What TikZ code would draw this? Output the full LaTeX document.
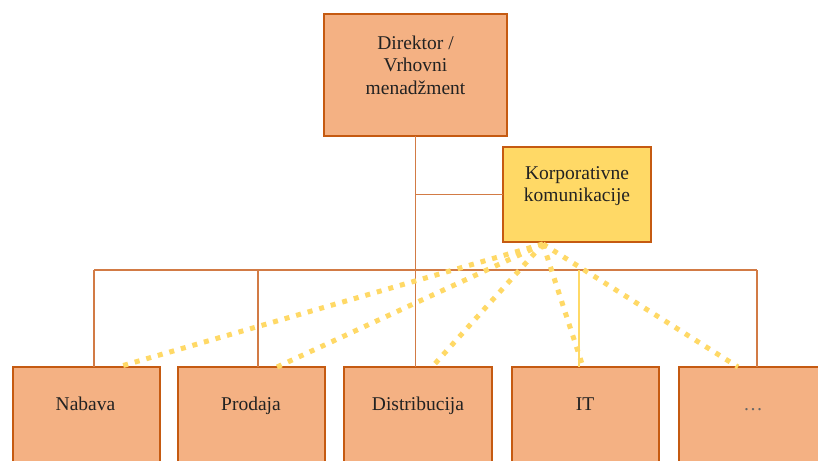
\documentclass[tikz,border=0pt]{standalone}
\usepackage{fontspec}
\setmainfont{Liberation Serif}
\definecolor{boxfill}{HTML}{F4B183}
\definecolor{boxline}{HTML}{C55A11}
\definecolor{kkfill}{HTML}{FFD966}
\definecolor{conn}{HTML}{D27B45}
\definecolor{dotc}{HTML}{FFD966}
\definecolor{txt}{HTML}{222222}
\begin{document}
\begin{tikzpicture}[x=1pt,y=-1pt,
  orgbox/.style={draw=boxline, fill=boxfill, line width=2.8pt, inner sep=0pt, outer sep=0pt},
  kkbox/.style={orgbox, fill=kkfill},
  lbl/.style={font=\fontsize{19.5}{22.5}\selectfont, text=txt, align=center, inner sep=0pt},
  tree/.style={draw=conn, line width=1.6pt},
  ittree/.style={draw=dotc, line width=1.6pt},
  dotline/.style={draw=dotc, line width=5pt, dash pattern=on 5pt off 7pt}]
\useasboundingbox (0,0) rectangle (818,460);
\clip (0,0) rectangle (818,460);
\fill[white] (0,0) rectangle (818,460);

% boxes
\node[orgbox, minimum width=183pt, minimum height=122pt] (dir) at (415.5,75) {};
\node[kkbox, minimum width=148pt, minimum height=95pt] (kk) at (577,194.5) {};
\node[orgbox, minimum width=147pt, minimum height=122pt] (nab) at (86.5,428) {};
\node[orgbox, minimum width=147pt, minimum height=122pt] (pro) at (251.5,428) {};
\node[orgbox, minimum width=148pt, minimum height=122pt] (dis) at (418,428) {};
\node[orgbox, minimum width=147pt, minimum height=122pt] (it) at (585.5,428) {};
\node[orgbox, minimum width=147pt, minimum height=122pt] (etc) at (752.5,428) {};

% labels
\node[lbl] (dirt) at (415.5,65) {Direktor /\\Vrhovni\\menadžment};
\node[lbl] (kkt) at (577,186) {Korporativne\\komunikacije};
\node[lbl, anchor=base] (nabt) at (85.5,410) {Nabava};
\node[lbl, anchor=base] (prot) at (251,410) {Prodaja};
\node[lbl, anchor=base] (dist) at (418,410) {Distribucija};
\node[lbl, anchor=base] (itt) at (585,410) {IT};
\node[lbl, anchor=base, text=black!60] (etct) at (753,410) {…};

% tree connectors
\coordinate (bl) at (94,270);
\coordinate (bp) at (258,270);
\coordinate (bi) at (579,270);
\coordinate (br) at (757,270);
\draw[tree] (dir.south) -- (dir.south |- dis.north);
\draw[tree] (dir.south |- kk.west) -- (kk.west);
\draw[tree] (bl) -- (br);
\draw[tree] (bl) -- (bl |- nab.north);
\draw[tree] (bp) -- (bp |- pro.north);
\draw[ittree] (bi) -- (bi |- it.north);
\draw[tree] (br) -- (br |- etc.north);

% dotted links
\coordinate (ks) at (543,244);
\coordinate (dn) at (118,367);
\coordinate (dp) at (277,367);
\coordinate (dd) at (432,367);
\coordinate (di) at (583,367);
\coordinate (de) at (738,367);
\draw[dotline] (ks) -- (dn);
\draw[dotline] (ks) -- (dp);
\draw[dotline] (ks) -- (dd);
\draw[dotline] (ks) -- (di);
\draw[dotline] (ks) -- (de);
\end{tikzpicture}
\end{document}
